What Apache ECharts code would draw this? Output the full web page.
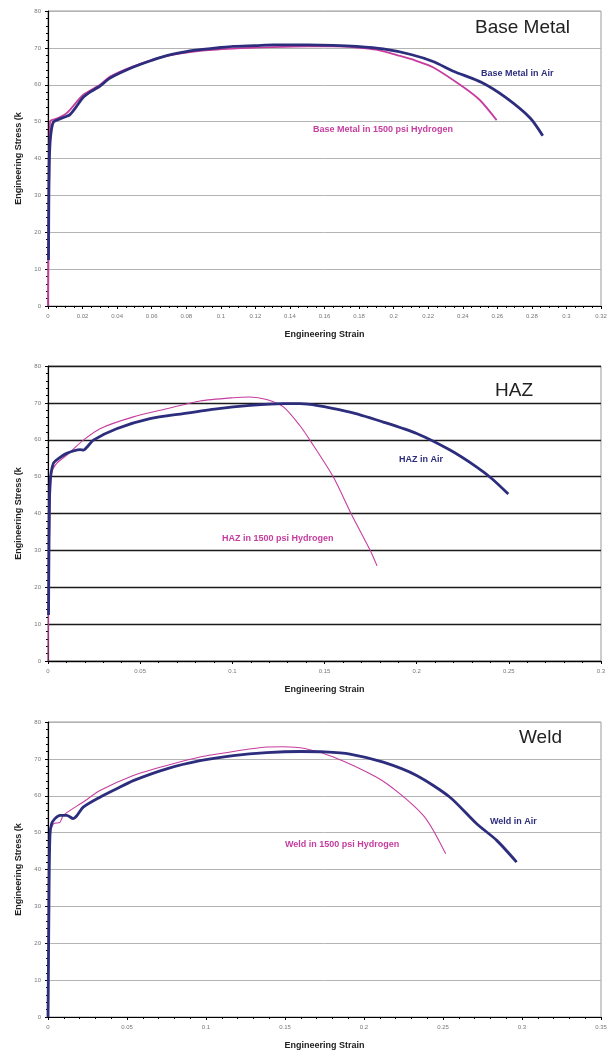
<!DOCTYPE html>
<html>
<head>
<meta charset="utf-8">
<script src="https://cdn.jsdelivr.net/npm/echarts@6/dist/echarts.min.js"></script>
<style>html,body{margin:0;padding:0;background:#fff}#c{width:613px;height:1051px}</style>
</head>
<body>
<div id="c"></div>
<script>
// ---- data: [engineering strain, engineering stress] ----
var baseAir = [[0.0003,12.5],[0.0005,30],[0.0008,40],[0.0015,46],[0.003,49.8],[0.006,50.6],[0.010,51.3],[0.0127,51.9],[0.016,53.8],[0.0204,56.6],[0.025,58.2],[0.0301,59.6],[0.0359,61.8],[0.0494,64.8],[0.06,66.6],[0.0687,67.9],[0.08,69],[0.088,69.5],[0.1,70.1],[0.1072,70.4],[0.12,70.6],[0.1304,70.8],[0.15,70.8],[0.165,70.7],[0.1786,70.4],[0.194,69.7],[0.21,68.2],[0.2228,66.3],[0.235,63.6],[0.251,60.6],[0.265,56.5],[0.279,51],[0.2863,46.2]];
var baseH2 = [[0,0],[0.0004,25],[0.0008,36],[0.0012,50.1],[0.005,50.8],[0.010,52],[0.0127,53.2],[0.0204,57.3],[0.0301,60],[0.0359,62.2],[0.0494,65],[0.0687,67.8],[0.088,69.2],[0.1072,69.8],[0.13,70.2],[0.15,70.4],[0.165,70.4],[0.1786,70.1],[0.190,69.5],[0.2037,67.8],[0.213,66.5],[0.223,64.7],[0.2403,59.4],[0.25,55.8],[0.2596,50.4]];
var hazAir = [[0.0003,12.5],[0.0006,35],[0.0011,48.2],[0.0029,53.6],[0.006,55],[0.0101,56.3],[0.0174,57.3],[0.0192,57.2],[0.0215,58.2],[0.0246,59.9],[0.0372,63],[0.0553,65.7],[0.0734,67.1],[0.0915,68.4],[0.1096,69.3],[0.1277,69.8],[0.1367,69.8],[0.1638,67.5],[0.1819,64.8],[0.2,61.7],[0.2181,57.2],[0.2326,52.6],[0.2407,49.5],[0.2497,45.3]];
var hazH2 = [[0,0],[0.0005,25],[0.001,37.3],[0.002,50.9],[0.0047,53.6],[0.0101,55.8],[0.0192,59.9],[0.0282,63],[0.0463,66.2],[0.0644,68.4],[0.0825,70.5],[0.1005,71.4],[0.1096,71.6],[0.1186,70.9],[0.1277,68.9],[0.1367,63.8],[0.1421,59.9],[0.1548,49.9],[0.1648,39.6],[0.1747,30.1],[0.1785,25.8]];
var weldAir = [[0,0],[0.0003,15],[0.0006,30],[0.0008,40],[0.0013,49.7],[0.0023,52.4],[0.0044,53.8],[0.0076,54.7],[0.0118,54.7],[0.016,53.8],[0.0181,54.5],[0.0223,56.9],[0.0329,59.6],[0.0435,61.9],[0.054,64.1],[0.0751,67.3],[0.0962,69.5],[0.1173,70.9],[0.1384,71.7],[0.16,72],[0.175,71.9],[0.1911,71.3],[0.2122,69.1],[0.2333,65.5],[0.2544,59.6],[0.2713,52.4],[0.284,47.9],[0.2966,42]];
var weldH2 = [[0,0],[0.0005,25],[0.0009,40],[0.0013,49.7],[0.0034,52.4],[0.0076,52.8],[0.0097,54.7],[0.0223,58.3],[0.0329,61.4],[0.054,65.5],[0.0751,68.2],[0.0962,70.5],[0.1173,72],[0.1384,73.2],[0.1489,73.3],[0.1625,72.8],[0.1806,70.5],[0.208,65],[0.2228,60.5],[0.2375,54.7],[0.2439,50.6],[0.2517,44.3]];

var panelTitles = ['Base Metal', 'HAZ', 'Weld'];
var airLabels = ['Base Metal in Air', 'HAZ in Air', 'Weld in Air'];
var h2Labels = ['Base Metal in 1500 psi Hydrogen', 'HAZ in 1500 psi Hydrogen', 'Weld in 1500 psi Hydrogen'];
var xMax = [0.32, 0.3, 0.35];
var xStep = [0.02, 0.05, 0.05];
var yMax = 80, yStep = 10;
var xTitle = 'Engineering Strain';
var yTitle = 'Engineering Stress (k';

var NAVY = '#2d2d7e', MAG = '#c63d9f';
var tops = [11, 366, 722];
var xMinorSplit = [4, 5, 5];
var gridColors = ['#b4b4b4', '#1a1a1a', '#b4b4b4'];
var gridWidths = [1, 1.4, 1];
var h2Widths = [1.8, 1.1, 1.1];
var airSets = [baseAir, hazAir, weldAir];
var h2Sets = [baseH2, hazH2, weldH2];

var grids = [], xAxes = [], yAxes = [], series = [];
for (var i = 0; i < 3; i++) {
  grids.push({left: 48, top: tops[i], width: 553, height: 295, show: true, borderColor: '#9a9a9a', borderWidth: 1, backgroundColor: 'transparent'});
  xAxes.push({
    type: 'value', gridIndex: i, min: 0, max: xMax[i], interval: xStep[i],
    name: xTitle, nameLocation: 'middle', nameGap: 24,
    nameTextStyle: {fontSize: 9, fontWeight: 'bold', color: '#222', fontFamily: 'Liberation Sans'},
    axisLine: {lineStyle: {color: '#000', width: 1.2}},
    axisTick: {show: true, length: 3, lineStyle: {color: '#000'}},
    minorTick: {show: true, splitNumber: xMinorSplit[i], length: 2, lineStyle: {color: '#000'}},
    axisLabel: {fontSize: 6, color: '#777', margin: 7, fontFamily: 'Liberation Sans'},
    splitLine: {show: false}
  });
  yAxes.push({
    type: 'value', gridIndex: i, min: 0, max: yMax, interval: yStep,
    name: yTitle, nameLocation: 'middle', nameGap: 23, nameRotate: 90,
    nameTextStyle: {fontSize: 9, fontWeight: 'bold', color: '#222', fontFamily: 'Liberation Sans'},
    axisLine: {lineStyle: {color: '#000', width: 1.2}},
    axisTick: {show: true, length: 3, lineStyle: {color: '#000'}},
    minorTick: {show: true, splitNumber: 5, length: 2, lineStyle: {color: '#000'}},
    axisLabel: {fontSize: 6, color: '#777', margin: 7, fontFamily: 'Liberation Sans'},
    splitLine: {show: true, lineStyle: {color: gridColors[i], width: gridWidths[i]}}
  });
  series.push({
    type: 'line', xAxisIndex: i, yAxisIndex: i, data: h2Sets[i], showSymbol: false, smooth: 0.25,
    lineStyle: {color: MAG, width: h2Widths[i]}, z: 3
  });
  series.push({
    type: 'line', xAxisIndex: i, yAxisIndex: i, data: airSets[i], showSymbol: false, smooth: 0.25,
    lineStyle: {color: NAVY, width: 2.8}, z: 4
  });
}

function txt(x, y, s, size, color, weight) {
  return {type: 'text', x: x, y: y, z: 10,
    style: {text: s, fontSize: size, fill: color, fontWeight: weight || 'normal', fontFamily: 'Liberation Sans', textVerticalAlign: 'middle', textAlign: 'left'}};
}
var graphics = [
  txt(475, 28, panelTitles[0], 19, '#222'),
  txt(495, 391, panelTitles[1], 19, '#222'),
  txt(519, 738, panelTitles[2], 19, '#222'),
  txt(481, 74, airLabels[0], 9, NAVY, 'bold'),
  txt(313, 130, h2Labels[0], 9, MAG, 'bold'),
  txt(399, 460, airLabels[1], 9, NAVY, 'bold'),
  txt(222, 539, h2Labels[1], 9, MAG, 'bold'),
  txt(490, 822, airLabels[2], 9, NAVY, 'bold'),
  txt(285, 845, h2Labels[2], 9, MAG, 'bold')
];

var chart = echarts.init(document.getElementById('c'));
chart.setOption({
  animation: false,
  backgroundColor: '#fff',
  grid: grids, xAxis: xAxes, yAxis: yAxes, series: series, graphic: graphics
});
</script>
</body>
</html>
